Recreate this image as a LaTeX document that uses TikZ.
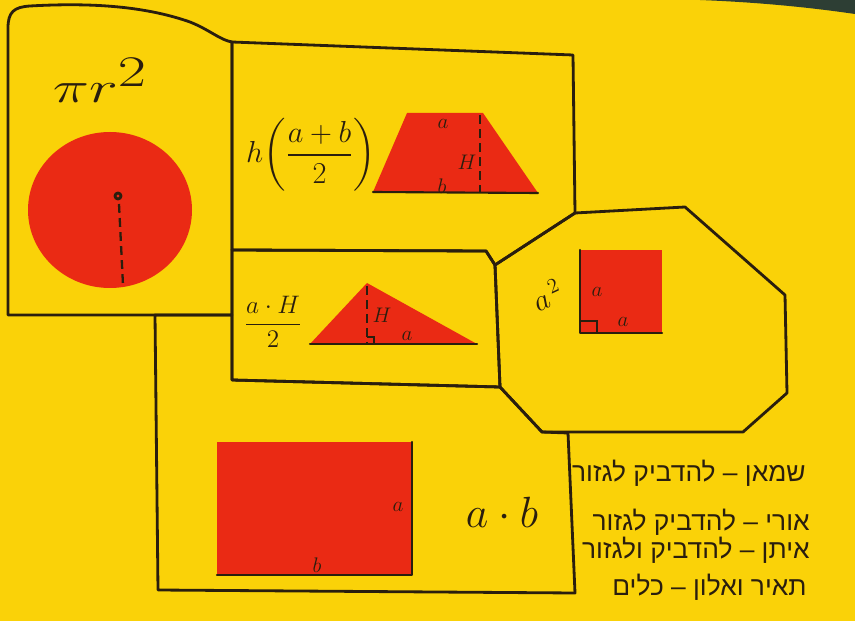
\documentclass[tikz,border=0pt]{standalone}
\usepackage{amsmath}
\usepackage{graphicx}
\usepackage{fontspec}
\newfontfamily\hebfont[Script=Hebrew]{Liberation Sans}
\TeXXeTstate=1
\definecolor{poster}{RGB}{250,210,8}
\definecolor{cutred}{RGB}{234,42,20}
\definecolor{ink}{RGB}{42,30,14}
\definecolor{edge}{RGB}{45,62,52}

\begin{document}
\begin{tikzpicture}[
x=0.02cm, y=-0.02cm,
pen/.style={line width=1.6pt, draw=ink, line join=round, line cap=round},
paper/.style={fill=cutred},
dashes/.style={line width=1.3pt, draw=ink, dash pattern=on 5pt off 3pt},
formula/.style={text=ink, inner sep=0pt},
tag/.style={text=ink, font=\fontsize{12}{12}\selectfont, inner sep=0pt},
names/.style={text=ink, font=\hebfont\fontsize{15}{16}\selectfont, inner sep=0pt, anchor=east}
]

% poster
\fill[poster] (0,0) rectangle (855,621);
\useasboundingbox (0,0) rectangle (855,621);
\fill[edge] (700,0) -- (855,0) -- (855,14) .. controls (800,6) and (750,2) .. (700,0) -- cycle;

% corners shared by the panels
\coordinate (top) at (232,42);
\coordinate (trTR) at (573,55);
\coordinate (octA) at (575,213);
\coordinate (octB) at (685,207);
\coordinate (octC) at (785,295);
\coordinate (octD) at (787,393);
\coordinate (octE) at (743,432);
\coordinate (octF) at (542,432);
\coordinate (octG) at (500,387);
\coordinate (octH) at (495,265);
\coordinate (bend) at (486,251);
\coordinate (midL) at (232,250);
\coordinate (cirBR) at (232,315);
\coordinate (cirBL) at (8,315);
\coordinate (triBL) at (232,380);
\coordinate (recTL) at (155,315);
\coordinate (recTR) at (568,433);
\coordinate (recBR) at (575,593);
\coordinate (recBL) at (158,590);

% circle panel
\fill[paper] (110,210) ellipse [x radius=82, y radius=78];
\draw[pen] (118,196) circle [radius=3];
\draw[dashes] (119,204) -- (123,285);
\node[formula, font=\fontsize{38}{40}\selectfont] (circA) at (100,80) {\scalebox{1.4}[1]{$\pi r^{2}$}};

% trapezoid panel
\fill[paper] (407,113) -- (483,113) -- (538,193) -- (373,192) -- cycle;
\draw[pen, line width=1.2pt] (373,192) -- (538,193);
\draw[dashes] (480,115) -- (480,192);
\node[formula, font=\fontsize{17}{19}\selectfont] (trapA) at (311,155) {$h\!\left(\dfrac{a+b}{2}\right)$};
\node[tag] (trapa) at (443,124) {$a$};
\node[tag] (traph) at (467,162) {$H$};
\node[tag] (trapb) at (442,186) {$b$};

% triangle panel
\fill[paper] (310,344) -- (367,283) -- (477,344) -- cycle;
\draw[pen, line width=1.2pt] (310,344) -- (477,344);
\draw[dashes] (367,286) -- (367,344);
\draw[ink, line width=1pt] (367,337) -- (374,337) -- (374,344);
\node[formula, font=\fontsize{15}{17}\selectfont] (triA) at (273,322) {$\dfrac{a\cdot H}{2}$};
\node[tag] (trih) at (382,315) {$H$};
\node[tag] (tria) at (407,336) {$a$};

% square panel
\fill[paper] (580,250) rectangle (662,333);
\draw[pen, line width=1.2pt] (580,250) -- (580,333) -- (662,333);
\draw[ink, line width=1pt] (581,321) -- (597,321) -- (597,333);
\node[formula, font=\fontsize{18}{20}\selectfont, rotate=25] (sqA) at (547,295) {$a^{\,2}$};
\node[tag] (sqa) at (597,292) {$a$};
\node[tag] (sqb) at (623,322) {$a$};

% rectangle panel
\fill[paper] (217,442) rectangle (412,575);
\draw[pen, line width=1.2pt] (412,442) -- (412,575) -- (217,575);
\node[formula, font=\fontsize{30}{32}\selectfont] (recA) at (502,512) {$a\cdot b$};
\node[tag] (reca) at (398,507) {$a$};
\node[tag] (recb) at (317,565) {$b$};

% panel outlines
\draw[pen] (cirBR) -- (cirBL) -- (8,28) .. controls (8,12) and (14,7) .. (30,6)
  .. controls (100,2) and (150,8) .. (190,22) .. controls (210,30) and (220,40) .. (top) -- cycle;
\draw[pen] (top) -- (trTR) -- (octA) -- (octH) -- (bend) -- (midL) -- cycle;
\draw[pen] (midL) -- (bend) -- (octH) -- (octG) -- (triBL) -- cycle;
\draw[pen] (octA) -- (octB) -- (octC) -- (octD) -- (octE) -- (octF) -- (octG) -- (octH) -- cycle;
\draw[pen] (recTL) -- (cirBR) -- (triBL) -- (octG) -- (octF) -- (recTR) -- (recBR) -- (recBL) -- cycle;

% who does what
\node[names] (job1) at (806,473) {\beginR שמאן – להדביק לגזור\endR};
\node[names] (job2) at (810,522) {\beginR אורי – להדביק לגזור\endR};
\node[names] (job3) at (810,550) {\beginR איתן – להדביק ולגזור\endR};
\node[names] (job4) at (807,587) {\beginR תאיר ואלון – כלים\endR};

\end{tikzpicture}
\end{document}
